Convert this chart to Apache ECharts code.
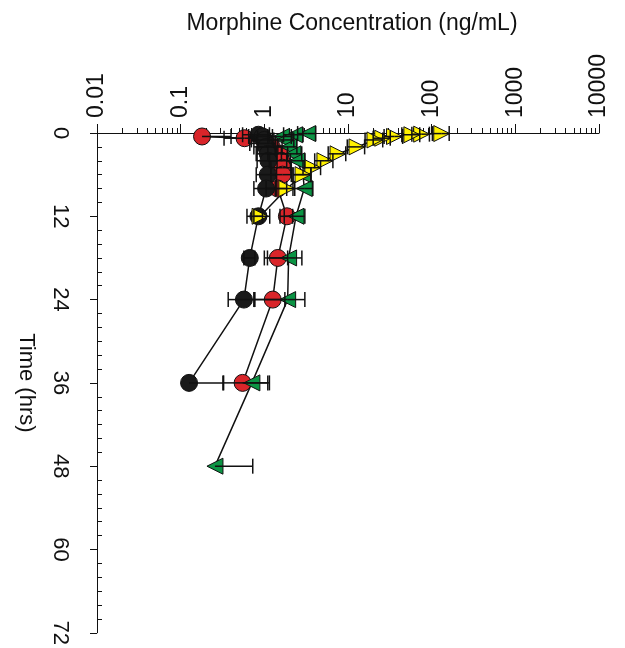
<!DOCTYPE html>
<html><head><meta charset="utf-8">
<script src="https://cdn.jsdelivr.net/npm/echarts@6/dist/echarts.min.js"></script>
<style>html,body{margin:0;padding:0;background:#fff}#c{width:625px;height:648px}</style>
</head><body><div id="c"></div>
<script>
// ---- tick labels ----
const concTickLabels = ['0.01', '0.1', '1', '10', '100', '1000', '10000'];
const timeTickLabels = ['0', '12', '24', '36', '48', '60', '72'];
const concMinorTicks = [0.02,0.03,0.04,0.05,0.06,0.07,0.08,0.09,
  0.2,0.3,0.4,0.5,0.6,0.7,0.8,0.9, 2,3,4,5,6,7,8,9,
  20,30,40,50,60,70,80,90, 200,300,400,500,600,700,800,900,
  2000,3000,4000,5000,6000,7000,8000,9000];
const timeMinorTicks = [2,4,6,8,10,14,16,18,20,22,26,28,30,32,34,38,40,42,44,46,50,52,54,56,58,62,64,66,68,70];

// ---- data: time (hrs), mean concentration (ng/mL), SD ----
const blackTime = [0.25, 0.5, 1, 2, 3, 4, 6, 8, 12, 18, 24, 36];
const blackConc = [0.85, 0.95, 1.0, 1.05, 1.1, 1.12, 1.1, 1.05, 0.85, 0.67, 0.57, 0.126];
const blackSD   = [0.3, 0.3, 0.3, 0.3, 0.3, 0.3, 0.3, 0.3, 0.1, 0.1, 0.2, 0.2];

const redTime = [0.5, 0.75, 1.5, 2, 3, 4, 5, 6, 8, 12, 18, 24, 36];
const redConc = [0.18, 0.58, 1.02, 1.23, 1.5, 1.6, 1.65, 1.65, 1.45, 1.86, 1.45, 1.26, 0.55];
const redSD   = [0.22, 0.25, 0.35, 0.4, 0.4, 0.45, 0.45, 0.45, 0.4, 0.32, 0.45, 0.5, 0.6];

const greenTime = [0.083, 0.25, 0.5, 1, 2, 3, 4, 6, 8, 12, 18, 24, 36, 48];
const greenConc = [3.3, 2.3, 1.6, 1.75, 1.95, 2.2, 2.45, 2.9, 3.0, 2.39, 1.95, 1.9, 0.71, 0.257];
const greenSD   = [0.8, 0.6, 0.5, 0.5, 0.5, 0.6, 0.6, 0.7, 0.8, 0.66, 0.86, 1.15, 0.39, 0.47];

const yellowTime = [0.083, 0.167, 0.25, 0.5, 0.75, 1, 2, 3, 4, 5, 6, 8, 12];
const yellowConc = [132, 76, 58, 36, 26, 21, 12.8, 7.6, 5.3, 3.8, 2.9, 1.86, 0.89];
const yellowSD   = [30, 18, 14, 9, 6, 5, 3, 1.8, 1.3, 0.9, 0.7, 0.45, 0.27];

const FONT = 'Liberation Sans, Arial, sans-serif';
const groups = [
  {time: redTime, conc: redConc, sd: redSD, color: '#d9252a', symbol: 'circle', rot: 0, size: 17},
  {time: blackTime, conc: blackConc, sd: blackSD, color: '#1a1a1a', symbol: 'circle', rot: 0, size: 17},
  {time: greenTime, conc: greenConc, sd: greenSD, color: '#0b9444', symbol: 'triangle', rot: 90, size: 16},
  {time: yellowTime, conc: yellowConc, sd: yellowSD, color: '#fff100', symbol: 'triangle', rot: -90, size: 16}
];

const series = [];
groups.forEach(g => {
  series.push({
    type: 'line', xAxisIndex: 0, yAxisIndex: 0, symbol: 'none', z: 2,
    lineStyle: {color: '#111', width: 1.5}, silent: true, animation: false,
    data: g.time.map((t, i) => [g.conc[i], t])
  });
});
groups.forEach(g => {
  series.push({
    type: 'scatter', xAxisIndex: 0, yAxisIndex: 0, z: 3,
    symbol: g.symbol, symbolRotate: g.rot, symbolSize: g.size, animation: false,
    itemStyle: {color: g.color, borderColor: '#111', borderWidth: 1, opacity: 1},
    data: g.time.map((t, i) => [g.conc[i], t])
  });
});
groups.forEach(g => {
  series.push({
    type: 'custom', xAxisIndex: 0, yAxisIndex: 0, z: 4, animation: false,
    encode: {x: 0, y: 1},
    data: g.time.map((t, i) => [g.conc[i], t, g.sd[i]]),
    renderItem: function (params, api) {
      const m = api.value(0), t = api.value(1), sd = api.value(2);
      const pm = api.coord([m, t]);
      const cap = 7.5;
      const st = {stroke: '#111', lineWidth: 1.5, fill: null};
      const ch = [];
      const hi = m + sd;
      const ph = api.coord([hi, t]);
      ch.push({type: 'line', shape: {x1: pm[0], y1: pm[1], x2: ph[0], y2: ph[1]}, style: st});
      ch.push({type: 'line', shape: {x1: ph[0], y1: ph[1] - cap, x2: ph[0], y2: ph[1] + cap}, style: st});
      const lo = m - sd;
      if (lo > 0.01) {
        const pl = api.coord([lo, t]);
        ch.push({type: 'line', shape: {x1: pm[0], y1: pm[1], x2: pl[0], y2: pl[1]}, style: st});
        ch.push({type: 'line', shape: {x1: pl[0], y1: pl[1] - cap, x2: pl[0], y2: pl[1] + cap}, style: st});
      }
      return {type: 'group', children: ch};
    }
  });
});

const chart = echarts.init(document.getElementById('c'), null, {renderer: 'canvas'});
chart.setOption({
  animation: false,
  backgroundColor: '#fff',
  grid: {left: 97, top: 133, right: 26, bottom: 15, containLabel: false},
  xAxis: [
    {
      type: 'log', logBase: 10, min: 0.01, max: 10000, position: 'top', gridIndex: 0,
      name: 'Morphine Concentration (ng/mL)', nameLocation: 'middle', nameGap: 98,
      nameTextStyle: {fontSize: 23, color: '#111', fontFamily: FONT, padding: [0, 0, 0, 8]},
      axisLine: {show: true, onZero: false, lineStyle: {color: '#111', width: 1}},
      axisTick: {show: true, inside: false, length: 9, lineStyle: {color: '#111', width: 1}},
      axisLabel: {show: true, rotate: -90, margin: 15, fontSize: 23, color: '#111', fontFamily: FONT,
        formatter: (v, i) => concTickLabels[i]},
      splitLine: {show: false}
    },
    {
      type: 'value', min: -2, max: 4, position: 'top', gridIndex: 0,
      axisLine: {show: false, onZero: false},
      axisTick: {show: true, inside: false, length: 5, lineStyle: {color: '#111', width: 1},
        customValues: concMinorTicks.map(v => Math.log10(v))},
      axisLabel: {show: false, customValues: concMinorTicks.map(v => Math.log10(v))},
      splitLine: {show: false}
    }
  ],
  yAxis: [
    {
      type: 'value', inverse: true, min: 0, max: 72, interval: 12, position: 'left', gridIndex: 0,
      name: 'Time (hrs)', nameLocation: 'middle', nameRotate: -90, nameGap: 60,
      nameTextStyle: {fontSize: 22, color: '#111', fontFamily: FONT},
      axisLine: {show: true, onZero: false, lineStyle: {color: '#111', width: 1}},
      axisTick: {show: true, inside: false, length: 7, lineStyle: {color: '#111', width: 1}},
      axisLabel: {show: true, rotate: -90, margin: 26, fontSize: 22, color: '#111', fontFamily: FONT,
        formatter: (v, i) => timeTickLabels[i]},
      splitLine: {show: false}
    },
    {
      type: 'value', inverse: true, min: 0, max: 72, position: 'left', gridIndex: 0, offset: 0,
      axisLine: {show: false, onZero: false},
      axisTick: {show: true, inside: true, length: 5, lineStyle: {color: '#111', width: 1}, customValues: timeMinorTicks},
      axisLabel: {show: false, customValues: timeMinorTicks},
      splitLine: {show: false}
    }
  ],
  series: series
});
</script></body></html>
